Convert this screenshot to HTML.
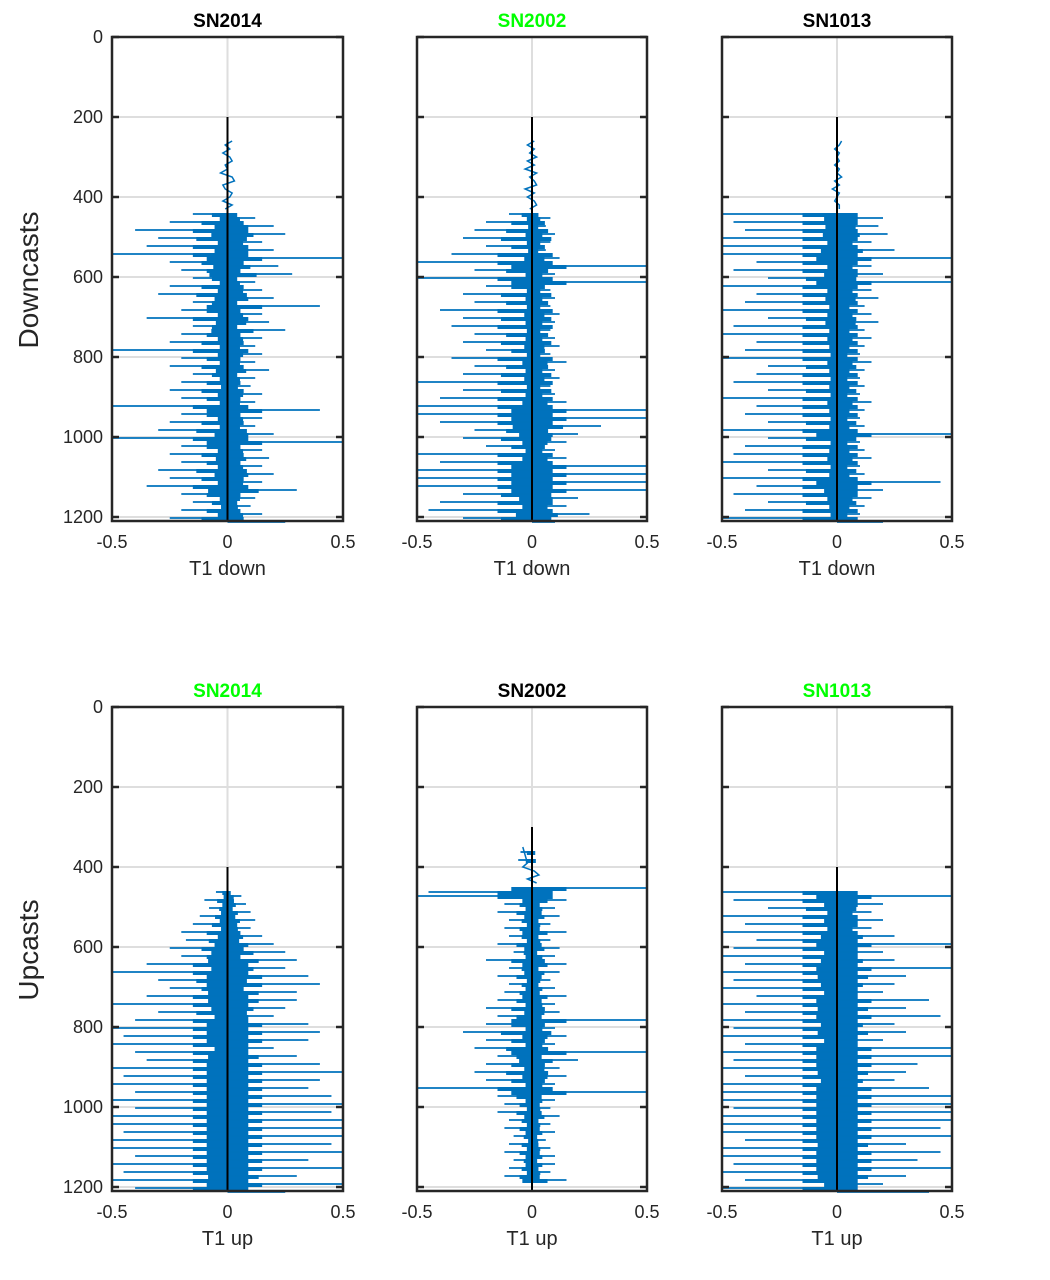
<!DOCTYPE html>
<html><head><meta charset="utf-8"><style>
body{margin:0;background:#fff;}
svg text{font-family:"Liberation Sans",sans-serif;}
</style></head><body>
<svg id="fig" width="1050" height="1275" viewBox="0 0 1050 1275" xmlns="http://www.w3.org/2000/svg"></svg>
<script>
// ---- data (values in units of 0.01 temperature difference, 10 m steps from start depth) ----
const depthTicks=[0,200,400,600,800,1000,1200];
const xTicks=[-0.5,0,0.5];
const titles=["SN2014","SN2002","SN1013","SN2014","SN2002","SN1013"];
const titleGreen=[false,true,false,true,false,true];
const xLabels=["T1 down","T1 down","T1 down","T1 up","T1 up","T1 up"];
const rowLabels=["Downcasts","Upcasts"];
const startDepth=[260,260,260,460,350,460];
const blackLineStart=[200,200,200,400,300,400];
const sA=[2,-1,1,-2,1,2,-1,0,-3,2,3,-2,-1,2,1,-2,2,-1,
-15,12,-25,20,-40,25,-30,15,-35,20,-50,50,-25,22,-20,28,-15,12,-25,15,-30,20,-15,40,-20,15,-35,18,-15,25,-20,15,-25,12,-50,15,-20,12,-25,18,-15,12,-20,10,-25,15,-20,12,-50,40,-20,15,-25,12,-30,20,-50,50,-20,15,-25,18,-20,15,-30,20,-25,15,-35,30,-20,12,-15,10,-20,15,-25,25];
const sB=[1,-2,1,-1,2,-2,1,-3,2,-1,1,2,-3,1,-2,1,2,-1,
-10,8,-20,6,-25,10,-30,8,-20,6,-35,12,-50,50,-25,10,-50,50,-20,8,-30,10,-25,8,-40,12,-30,10,-35,8,-25,10,-30,12,-20,8,-35,15,-25,10,-30,12,-50,8,-30,10,-40,15,-50,50,-50,50,-40,30,-25,20,-30,15,-20,10,-50,15,-40,50,-50,50,-50,50,-50,50,-30,20,-40,15,-45,25,-30,10,-25,15,-35,20];
const sC=[2,1,-1,1,0,1,-1,1,0,2,-1,1,-2,1,0,-1,1,1,
-50,20,-45,18,-40,22,-50,15,-50,25,-50,50,-35,15,-45,20,-30,50,-50,15,-35,18,-40,12,-50,15,-30,18,-45,12,-50,15,-35,12,-40,10,-50,15,-30,12,-35,10,-45,12,-30,10,-50,15,-35,12,-40,10,-30,12,-50,50,-30,10,-40,12,-45,15,-50,10,-30,12,-50,45,-35,20,-45,15,-30,12,-40,10,-50,20];
const sD=[-5,6,-10,8,-8,10,-12,12,-15,10,-20,15,-18,20,-25,25,-20,30,-35,25,-50,35,-30,40,-25,30,-35,30,-50,25,-30,20,-40,35,-50,40,-45,35,-50,20,-40,30,-35,40,-50,50,-45,40,-50,35,-40,45,-50,50,-40,45,-50,50,-50,50,-45,50,-50,45,-50,50,-40,35,-50,50,-45,30,-50,50,-40,25];
const sE=[-4,-5,-3,-6,-2,-4,1,3,-2,2,
50,-45,-50,15,-12,10,-15,12,-10,8,-12,15,-10,8,-15,12,-8,10,-20,15,-10,12,-15,8,-10,10,-12,15,-15,10,-20,12,-15,50,-20,10,-30,15,-20,10,-25,50,-15,20,-20,12,-25,15,-20,10,-50,50,-15,10,-12,8,-15,12,-10,8,-12,10,-8,6,-10,8,-12,10,-8,10,-10,8,-12,15];
const sF=[-50,50,-45,20,-30,15,-50,20,-40,15,-50,25,-35,50,-45,20,-50,25,-40,50,-50,30,-45,25,-50,20,-35,40,-50,30,-40,45,-50,25,-45,30,-50,20,-40,50,-50,50,-45,35,-50,30,-40,25,-50,40,-50,50,-50,50,-45,50,-50,50,-50,45,-50,50,-40,30,-50,45,-50,35,-45,50,-50,30,-40,20,-50,40];
const series=[sA,sB,sC,sD,sE,sF];

// ---- layout ----
const svg=document.getElementById('fig');
const NS='http://www.w3.org/2000/svg';
const colX=[[112,343],[417,647],[722,952]];
const rowY=[37,707];
const pxPerM=0.4, maxDepth=1210;
function mk(tag,attrs,parent){const e=document.createElementNS(NS,tag);for(const k in attrs)e.setAttribute(k,attrs[k]);(parent||svg).appendChild(e);return e;}

for(let p=0;p<6;p++){
  const r=Math.floor(p/3), c=p%3;
  const x0=colX[c][0], x1=colX[c][1], y0=rowY[r];
  const xs=v=>x0+(Math.max(-0.5,Math.min(0.5,v))+0.5)*(x1-x0);
  const ys=d=>y0+d*pxPerM;
  const g=mk('g',{});
  
  
  depthTicks.forEach(d=>{const l=mk('line',{x1:x0,x2:x1,y1:ys(d),y2:ys(d),stroke:'#dedede','stroke-width':2},g);
    });
  const gv=mk('line',{x1:xs(0),x2:xs(0),y1:y0,y2:ys(maxDepth),stroke:'#dedede','stroke-width':2},g);
  
  const vals=series[p], sd=startDepth[p];
  const wig=[];
  vals.forEach((v,i)=>{const d=sd+i*10; if(d>maxDepth) return;
    if(Math.abs(v)<5){wig.push([xs(v/100),ys(d)]);return;}
    const a=Math.abs(v)/100;
    const main=Math.min(a*0.45,0.15), other=Math.min(a*0.28,0.09);
    const right=v>0?main:other, left=v<0?main:other;
    const hh=Math.min(4, ys(maxDepth)-ys(d));
    const core=mk('rect',{x:xs(-left),y:ys(d),width:xs(right)-xs(-left),height:hh,fill:'#0072bd'},g);
    
    const s=mk('line',{x1:xs(0),x2:xs(v/100),y1:ys(d)+1,y2:ys(d)+1,stroke:'#0072bd','stroke-width':1.8},g);
    
  });
  if(wig.length){
    const pl=mk('polyline',{points:wig.map(q=>q.join(',')).join(' '),fill:'none',stroke:'#0072bd','stroke-width':1.5},g);
    
  }
  const zl=mk('line',{x1:xs(0),x2:xs(0),y1:ys(blackLineStart[p]),y2:ys(maxDepth),stroke:'#000','stroke-width':2},g);
  
  const fr=mk('rect',{x:x0,y:y0,width:x1-x0,height:ys(maxDepth)-y0,fill:'none',stroke:'#262626','stroke-width':2.5},g);
  
  depthTicks.forEach(d=>{
    mk('line',{x1:x0,x2:x0+7,y1:ys(d),y2:ys(d),stroke:'#262626','stroke-width':2.5},g);
    mk('line',{x1:x1-7,x2:x1,y1:ys(d),y2:ys(d),stroke:'#262626','stroke-width':2.5},g);
    if(c===0){const t=mk('text',{x:x0-9,y:ys(d)+6,'text-anchor':'end','font-size':18,fill:'#262626'},g);t.textContent=d;
      }
  });
  xTicks.forEach(v=>{
    const t=mk('text',{x:xs(v),y:ys(maxDepth)+27,'text-anchor':'middle','font-size':18,fill:'#262626'},g);t.textContent=v;
    });
  const xl=mk('text',{x:xs(0),y:ys(maxDepth)+54,'text-anchor':'middle','font-size':20,fill:'#262626'},g);xl.textContent=xLabels[p];
  
  const tt=mk('text',{x:xs(0),y:y0-10,'text-anchor':'middle','font-size':19,'font-weight':'bold',fill:titleGreen[p]?'#00ff00':'#000'},g);tt.textContent=titles[p];
  
  if(c===0){const yl=mk('text',{x:0,y:0,transform:`translate(38,${y0+243}) rotate(-90)`,'text-anchor':'middle','font-size':28,fill:'#262626'},g);yl.textContent=rowLabels[r];
    }
}
</script>
</body></html>
